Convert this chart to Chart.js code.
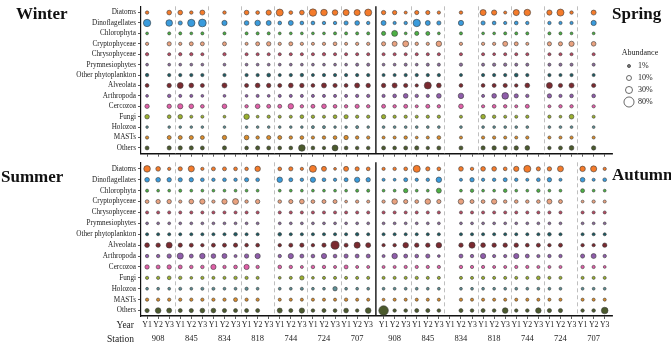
<!DOCTYPE html>
<html>
<head>
<meta charset="utf-8">
<script src="https://cdn.jsdelivr.net/npm/chart.js@4.4.0/dist/chart.umd.min.js"></script>
<style>
  body { margin: 0; background: #fff; }
  #wrap { position: relative; width: 671px; height: 342px; }
  canvas { position: absolute; left: 0; }
</style>
</head>
<body>
<div id="wrap">
  <canvas id="topChart" width="671" height="160" style="top:0"></canvas>
  <canvas id="bottomChart" width="671" height="186" style="top:156px"></canvas>
</div>
<script>
const categories = ['Diatoms', 'Dinoflagellates', 'Chlorophyta', 'Cryptophyceae', 'Chrysophyceae',
  'Prymnesiophytes', 'Other phytoplankton', 'Alveolata', 'Arthropoda', 'Cercozoa', 'Fungi',
  'Holozoa', 'MASTs', 'Others'];
const colors = ['#F47B2B', '#3A9BDC', '#4DB045', '#E9A27F', '#B94A63', '#8C6D9B', '#1E5A62',
  '#7A2A30', '#8F5DAA', '#E060A8', '#9BB030', '#5E8F95', '#D98C2C', '#4B5A2D'];
const stations = ['908', '845', '834', '818', '744', '724', '707'];
const years = ['Y1', 'Y2', 'Y3'];
const legendValues = [1, 10, 30, 80];

// relative abundance (%), columns = 7 stations x Y1..Y3, null = no sample
const winter = [
  [2, null, 8, 8, 2, 10, null, 2, null, 8, 3, 12, 30, 3, 8, 35, 25, 15, 20, 20, 30],
  [35, null, 25, 5, 35, 40, null, 12, null, 8, 15, 10, 3, 10, 3, 3, 2, 2, 5, 8, 2],
  [0.5, null, 1, 1, 0.5, 1, null, 1, null, 1, 1, 1, 0.5, 0.5, 0.5, 0.5, 0.5, 1, 1, 1, 1],
  [1.5, null, 5, 1.5, 4, 4, null, 4, null, 1, 4, 6, 1.5, 4, 1.5, 1, 1.5, 3, 1, 1.5, 1.5],
  [1.5, null, 1, 1.5, 1.5, 1, null, 1.5, null, 1, 1, 1, 1, 1, 1, 1, 1.5, 1, 1, 1, 1],
  [0.5, null, 0.5, 0.5, 0.5, 0.5, null, 0.5, null, 0.5, 0.5, 0.5, 0.5, 0.5, 0.5, 0.5, 0.5, 0.5, 0.5, 1, 1],
  [2, null, 1.5, 1.5, 1.5, 1.5, null, 1.5, null, 1.5, 1.5, 3, 1, 1.5, 2, 1, 1.5, 1.5, 1.5, 1.5, 1.5],
  [3, null, 6, 18, 8, 4, null, 10, null, 4, 8, 6, 4, 8, 6, 3, 10, 5, 3, 10, 6],
  [0.5, null, 2, 1, 1, 0.5, null, 0.5, null, 0.5, 1, 0.5, 1, 1, 1, 1, 1, 1, 1, 1.5, 1.5],
  [6, null, 6, 12, 8, 3, null, 8, null, 2, 8, 4, 4, 14, 2, 4, 8, 3, 2, 5, 2],
  [7, null, 3, 7, 1, 1, null, 0.5, null, 14, 0.5, 1.5, 1, 1, 3, 2, 1, 3, 5, 1.5, 1.5],
  [0.3, null, 0.3, 0.3, 0.3, 0.3, null, 0.3, null, 0.3, 0.3, 0.3, 0.3, 0.3, 0.3, 1, 1, 0.3, 0.3, 1, 0.3],
  [1.5, null, 4, 4, 5, 4, null, 6, null, 8, 2, 5, 4, 2, 3, 1.5, 2, 3, 6, 2, 1.5],
  [4, null, 5, 5, 5, 4, null, 5, null, 3, 5, 4, 3, 3, 25, 3, 2, 18, 3, 2.5, 2.5]
];
const spring = [
  [6, 6, 1, 5, 5, 1.5, null, 2, null, 20, 12, 1, 20, 25, null, 12, 30, 2, null, 10, null],
  [10, 1.5, 2, 35, 10, 5, null, 12, null, 5, 3, 1.5, 3, 2, null, 2, 1.5, 1.5, null, 12, null],
  [5, 18, 0.5, 5, 4, 0.5, null, 1, null, 0.5, 0.5, 1, 1, 1, null, 1, 1, 0.5, null, 0.5, null],
  [5, 10, 18, 2, 1.5, 14, null, 1.5, null, 1.5, 1.5, 10, 4, 1, null, 5, 5, 12, null, 8, null],
  [1, 1, 1, 1, 1, 1, null, 1, null, 1, 0.5, 1, 1, 1, null, 1, 1, 1, null, 1, null],
  [0.5, 0.5, 1, 0.5, 1, 1, null, 1.5, null, 1, 1.5, 1.5, 1, 1, null, 1, 1, 1, null, 1, null],
  [1, 1, 1.5, 1.5, 1.5, 1.5, null, 1, null, 1.5, 1.5, 1.5, 3, 1.5, null, 1.5, 1, 1.5, null, 1, null],
  [6, 10, 5, 1.5, 30, 8, null, 3, null, 3, 4, 5, 2, 8, null, 18, 5, 10, null, 5, null],
  [1.5, 3, 8, 2, 1.5, 8, null, 14, null, 1, 8, 25, 5, 2, null, 6, 1.5, 3, null, 3, null],
  [4, 2, 4, 1, 4, 2, null, 8, null, 1.5, 3, 2, 1, 4, null, 1, 2, 2, null, 1.5, null],
  [6, 1.5, 1.5, 1, 1.5, 1.5, null, 1, null, 8, 2, 1, 1, 1.5, null, 1.5, 0.5, 8, null, 1, null],
  [0.5, 0.5, 0.5, 0.5, 0.5, 0.5, null, 0.5, null, 0.5, 0.5, 0.5, 0.5, 0.5, null, 0.5, 0.5, 0.5, null, 0.5, null],
  [1, 1, 2, 0.5, 1, 3, null, 1, null, 1.5, 1.5, 1, 1, 1.5, null, 1, 1, 1.5, null, 1, null],
  [4, 3, 4, 5, 2, 4, null, 4, null, 5, 6, 4, 6, 8, null, 2, 4, 8, null, 6, null]
];
const summer = [
  [25, 8, 1.5, 5, 20, 1.5, 4, 4, 3, 2.5, 14, null, 3, 5, 1.5, 30, 10, 0.5, 10, 5, 3],
  [8, 8, 6, 5, 6, 3, 2, 3, 2, 5, 3, null, 14, 4, 2, 12, 3, 1.5, 4, 12, 6],
  [1, 0.5, 0.5, 1, 0.5, 0.5, 0.5, 0.5, 0.5, 0.5, 0.5, null, 0.5, 0.5, 0.5, 0.5, 0.5, 0.5, 0.5, 1, 1],
  [3, 6, 6, 1.5, 8, 12, 1.5, 12, 18, 2, 6, null, 2.5, 5, 8, 3, 4, 4, 0.5, 1.5, 1],
  [1, 1, 1, 1, 1, 1, 1, 1, 1, 1, 1, null, 1, 1, 1, 1, 1, 1, 1, 1, 1],
  [0.5, 0.5, 0.5, 0.5, 0.5, 0.5, 0.5, 0.5, 0.5, 0.5, 0.5, null, 0.5, 0.5, 0.5, 0.5, 0.5, 0.5, 0.5, 0.5, 0.5],
  [1, 1, 1, 1, 1, 1, 1, 1, 2.5, 1, 1, null, 2.5, 1, 1, 1, 1, 1, 1, 2, 1],
  [8, 6, 18, 5, 4, 2, 4, 4, 5, 2.5, 3, null, 2, 4, 5, 2, 5, 45, 4, 20, 10],
  [2, 2, 6, 20, 4, 14, 8, 10, 1, 6, 12, null, 2, 12, 4, 3, 12, 3, 5, 4, 4],
  [6, 4, 6, 4, 2.5, 2.5, 12, 2, 3, 12, 2, null, 3, 2, 1, 2.5, 2, 1, 4, 1, 1],
  [1.5, 1.5, 3, 2, 0.5, 1.5, 1, 1, 2, 1.5, 1, null, 0.5, 1, 6, 0.5, 1, 1, 1, 1, 1],
  [0.5, 0.5, 0.5, 1, 0.5, 1, 1, 0.5, 0.5, 1.5, 0.5, null, 0.5, 0.5, 1, 0.5, 0.5, 6, 0.5, 0.5, 0.5],
  [1.5, 1.5, 1.5, 1.5, 1.5, 1.5, 1.5, 1.5, 4, 1.5, 1.5, null, 1, 1, 1, 1, 1, 1, 2, 1, 1],
  [5, 15, 10, 4, 5, 8, 8, 5, 4, 4, 4, null, 10, 4, 12, 2.5, 4, 3, 8, 2, 15]
];
const autumn = [
  [1.5, 2, 3, 30, 5, 3, null, 8, 2, 8, 8, 3, 12, 30, 5, 6, 18, null, 14, 20, 1.5],
  [1, 0.5, 4, 1.5, 2, 14, null, 1, 6, 1.5, 2, 4, 2, 1, 3, 6, 1, null, 8, 1, 3],
  [0.5, 0.5, 6, 0.5, 0.5, 10, null, 0.5, 2, 0.5, 0.5, 2.5, 0.5, 0.5, 2, 0.5, 0.5, null, 4, 0.5, 0.5],
  [1.5, 14, 5, 3, 14, 5, null, 14, 4, 3, 12, 2, 2.5, 2, 2.5, 10, 4, null, 0.5, 1.5, 1],
  [1, 1, 1, 1, 1, 1, null, 1, 1, 1, 1, 1, 1, 1, 1, 1, 1, null, 1, 1, 1],
  [0.5, 0.5, 0.5, 0.5, 0.5, 0.5, null, 0.5, 0.5, 0.5, 0.5, 0.5, 0.5, 0.5, 0.5, 0.5, 0.5, null, 0.5, 0.5, 0.5],
  [1, 1, 1, 1, 1, 1, null, 1, 1, 1, 1, 1, 1, 1, 1, 2.5, 1, null, 1, 1, 1],
  [1.5, 2, 14, 6, 6, 14, null, 6, 20, 8, 6, 6, 6, 3, 4, 2, 4, null, 2, 1.5, 6],
  [1, 14, 4, 3, 5, 0.5, null, 4, 2, 12, 1.5, 1.5, 12, 4, 1.5, 2, 2, null, 5, 10, 2],
  [1, 1, 1.5, 1.5, 1.5, 1.5, null, 2, 1.5, 1.5, 1, 1, 1.5, 1.5, 1, 1, 1, null, 2, 1.5, 0.5],
  [1, 1, 1, 1.5, 1, 1, null, 1, 1, 1.5, 1, 1, 1, 1, 3, 1, 1, null, 1, 1, 1],
  [0.5, 0.5, 0.5, 0.5, 0.5, 0.5, null, 0.5, 0.5, 0.5, 0.5, 0.5, 0.5, 0.5, 0.5, 0.5, 0.5, null, 0.5, 0.5, 0.5],
  [0.5, 1, 1, 1, 1, 1, null, 1.5, 1, 1, 1, 1, 1, 1, 1, 1, 1, null, 1, 1, 1],
  [70, 2, 2.5, 4, 4, 2.5, null, 4, 2.5, 4, 2.5, 15, 2, 2.5, 14, 5, 5, null, 2, 2.5, 25]
];

const serif = "'Liberation Serif', 'Times New Roman', serif";
const rad = v => 1.1 + 0.44 * Math.sqrt(v);
// x position of a column; right half (second season) is shifted a bit
const pos = i => i < 21 ? i : i + 0.39;
const allCols = Array.from({length: 42}, (_, i) => i);

function buildDatasets(left, right) {
  return categories.map((cat, k) => {
    const data = [];
    left[k].forEach((v, j) => { if (v != null) data.push({x: pos(j), y: k, r: rad(v)}); });
    right[k].forEach((v, j) => { if (v != null) data.push({x: pos(j + 21), y: k, r: rad(v)}); });
    return {
      label: cat, data: data,
      backgroundColor: colors[k],
      borderColor: '#3a3a3a',
      borderWidth: 0.6
    };
  });
}

const panelLines = {
  id: 'panelLines',
  beforeDatasetsDraw(chart) {
    const {ctx, chartArea: a, scales: {x}} = chart;
    const mid = c => (x.getPixelForValue(pos(c)) + x.getPixelForValue(pos(c + 1))) / 2;
    ctx.save();
    ctx.strokeStyle = '#b8b8b8';
    ctx.lineWidth = 0.9;
    ctx.setLineDash([4, 3]);
    for (let s = 1; s < 7; s++) {
      [3 * s - 1, 21 + 3 * s - 1].forEach(c => {
        const px = Math.round(mid(c)) + 0.5;
        ctx.beginPath(); ctx.moveTo(px, a.top); ctx.lineTo(px, a.bottom); ctx.stroke();
      });
    }
    ctx.setLineDash([]);
    ctx.strokeStyle = '#111';
    ctx.lineWidth = 1.4;
    const sx = mid(20);
    ctx.beginPath(); ctx.moveTo(sx, a.top); ctx.lineTo(sx, a.bottom); ctx.stroke();
    ctx.restore();
  }
};

const topText = {
  id: 'topText',
  afterDraw(chart) {
    const ctx = chart.ctx;
    ctx.save();
    ctx.fillStyle = '#111';
    ctx.font = 'bold 17px ' + serif;
    ctx.textBaseline = 'alphabetic';
    ctx.textAlign = 'left';
    ctx.fillText('Winter', 16, 19);
    ctx.fillText('Spring', 612, 19);
    // size legend
    ctx.fillStyle = '#222';
    ctx.font = '8px ' + serif;
    ctx.textAlign = 'center';
    ctx.textBaseline = 'middle';
    ctx.fillText('Abundance', 640, 53);
    ctx.textAlign = 'left';
    legendValues.forEach((v, i) => {
      const y = 66 + 12 * i;
      ctx.beginPath();
      ctx.arc(629, y, rad(v), 0, Math.PI * 2);
      ctx.strokeStyle = '#444';
      ctx.lineWidth = 0.8;
      if (i === 0) { ctx.fillStyle = '#777'; ctx.fill(); }
      ctx.stroke();
      ctx.fillStyle = '#222';
      ctx.fillText(v + '%', 638, y);
    });
    ctx.restore();
  }
};

const bottomText = {
  id: 'bottomText',
  afterDraw(chart) {
    const {ctx, scales: {x}} = chart;
    ctx.save();
    ctx.fillStyle = '#111';
    ctx.font = 'bold 17px ' + serif;
    ctx.textBaseline = 'alphabetic';
    ctx.textAlign = 'left';
    ctx.fillText('Summer', 1, 26);
    ctx.fillText('Autumn', 612, 24);
    ctx.fillStyle = '#222';
    ctx.font = '9.5px ' + serif;
    ctx.textBaseline = 'middle';
    ctx.textAlign = 'right';
    ctx.fillText('Year', 134, 169);
    ctx.fillText('Station', 134, 183);
    ctx.font = '8.5px ' + serif;
    ctx.textAlign = 'center';
    for (let h = 0; h < 2; h++) {
      stations.forEach((s, i) => {
        ctx.fillText(s, x.getPixelForValue(pos(h * 21 + i * 3 + 1)), 183);
      });
    }
    ctx.restore();
  }
};

function makeOptions(bottomAxis) {
  return {
    responsive: false,
    devicePixelRatio: 1,
    animation: false,
    events: [],
    layout: { padding: { left: 0, right: 59, top: bottomAxis ? 3.5 : 0, bottom: 0 } },
    plugins: { legend: { display: false }, tooltip: { enabled: false } },
    scales: {
      x: {
        type: 'linear', min: -0.55, max: 42.05,
        afterBuildTicks: s => { s.ticks = allCols.map(i => ({value: pos(i)})); },
        afterFit: s => { s.height = bottomAxis ? 26 : 4; },
        border: { display: true, color: '#111', width: 1.4 },
        grid: { drawOnChartArea: false, drawTicks: true, tickLength: 3, color: '#333', lineWidth: 0.8 },
        ticks: {
          display: bottomAxis,
          autoSkip: false, maxRotation: 0, padding: 1,
          font: { family: serif, size: 7.8 }, color: '#222',
          callback: (v, i) => years[i % 3]
        }
      },
      y: {
        type: 'linear', reverse: true, min: -0.6, max: bottomAxis ? 13.5 : 13.55,
        afterBuildTicks: s => { s.ticks = categories.map((c, k) => ({value: k})); },
        afterFit: s => { s.width = 141; },
        border: { display: true, color: '#111', width: 1.2 },
        grid: { drawOnChartArea: false, drawTicks: true, tickLength: 3, color: '#333', lineWidth: 0.8 },
        ticks: {
          autoSkip: false, padding: 2,
          font: { family: serif, size: 7.2 }, color: '#222',
          callback: v => categories[v]
        }
      }
    }
  };
}

new Chart(document.getElementById('topChart'), {
  type: 'bubble',
  data: { datasets: buildDatasets(winter, spring) },
  options: makeOptions(false),
  plugins: [panelLines, topText]
});

new Chart(document.getElementById('bottomChart'), {
  type: 'bubble',
  data: { datasets: buildDatasets(summer, autumn) },
  options: makeOptions(true),
  plugins: [panelLines, bottomText]
});
</script>
</body>
</html>
